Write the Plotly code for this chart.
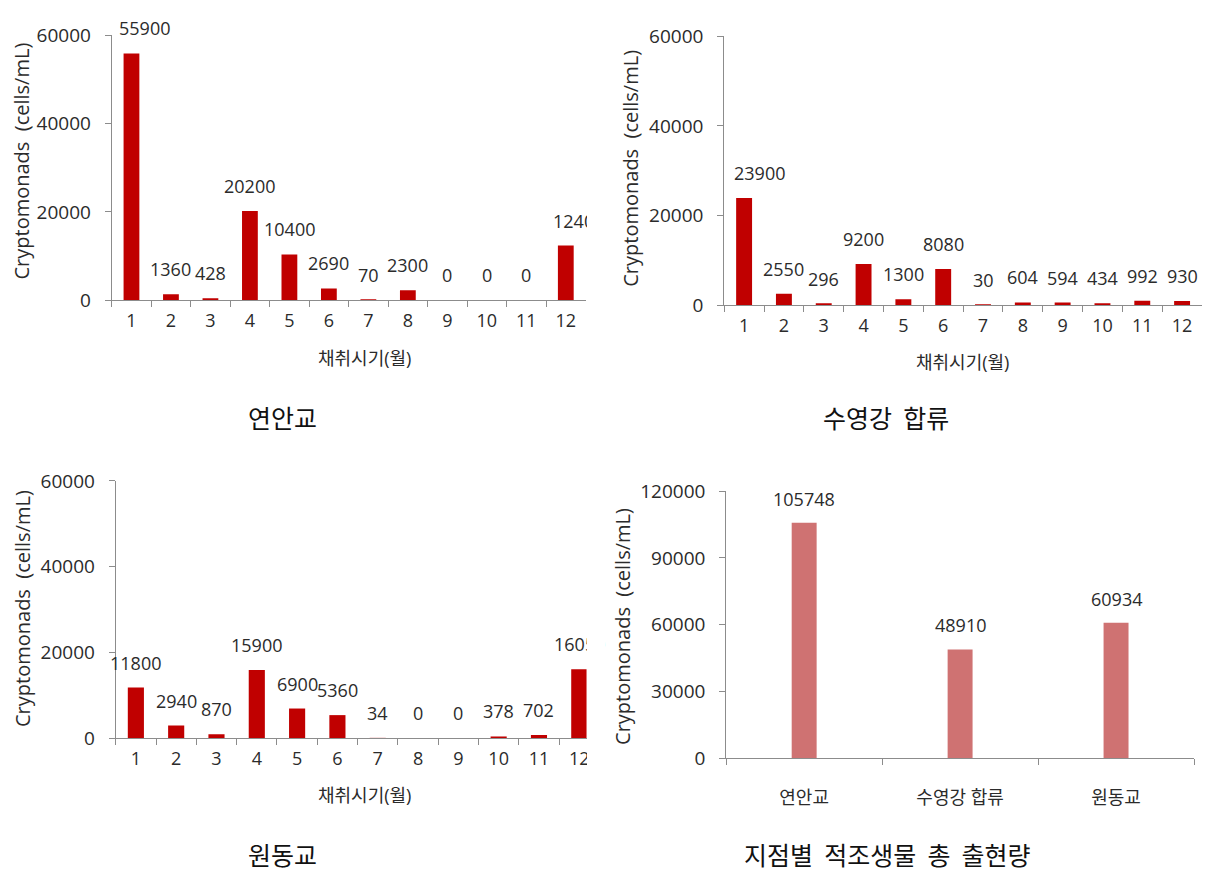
import plotly.graph_objects as go

# ---------------- data ----------------
months = ["1", "2", "3", "4", "5", "6", "7", "8", "9", "10", "11", "12"]
yeonangyo = [55900, 1360, 428, 20200, 10400, 2690, 70, 2300, 0, 0, 0, 12400]
suyeong = [23900, 2550, 296, 9200, 1300, 8080, 30, 604, 594, 434, 992, 930]
wondong = [11800, 2940, 870, 15900, 6900, 5360, 34, 0, 0, 378, 702, 16050]
sites = ["연안교", "수영강 합류", "원동교"]
site_totals = [105748, 48910, 60934]

panel_titles = ["연안교", "수영강\u00a0\u00a0합류", "원동교",
                "지점별\u00a0\u00a0적조생물\u00a0\u00a0총\u00a0\u00a0출현량"]
x_title = "채취시기(월)"
y_title = "Cryptomonads\u00a0\u00a0(cells/mL)"

# label nudges (pixels), style only
nudge1 = {0: 13, 11: 13}
nudge2 = {0: 15}
nudge3 = {}

# ---------------- layout constants ----------------
W, H = 1205, 887
FONT = "Open Sans, Noto Sans CJK KR, sans-serif"
KFONT = "Noto Sans CJK KR, sans-serif"
AX = "#8c8c8c"
TXT = "#2b2b2b"
RED = "#C00000"
PINK = "#CF7272"
LEFT_CROP = 588  # the left-hand charts are cropped at this pixel column


def dx(a, b):
    return [a / W, b / W]


def dy(top, bottom):
    return [1 - bottom / H, 1 - top / H]


fig = go.Figure()

panels = [
    dict(x="x", y="y", vals=yeonangyo, nudge=nudge1),
    dict(x="x2", y="y2", vals=suyeong, nudge=nudge2),
    dict(x="x3", y="y3", vals=wondong, nudge=nudge3),
]

annotations = []
for p in panels:
    fig.add_trace(go.Bar(x=months, y=p["vals"], xaxis=p["x"], yaxis=p["y"],
                         marker=dict(color=RED, line=dict(width=0)),
                         width=0.4, showlegend=False, hoverinfo="skip"))
    for i, v in enumerate(p["vals"]):
        annotations.append(dict(x=i, y=v, xref=p["x"], yref=p["y"], text=str(v),
                                showarrow=False, yshift=25, xshift=p["nudge"].get(i, 0),
                                xanchor="center", yanchor="middle",
                                font=dict(family=FONT, size=18, color=TXT)))

fig.add_trace(go.Bar(x=sites, y=site_totals, xaxis="x4", yaxis="y4",
                     marker=dict(color=PINK, line=dict(width=0)),
                     width=0.16, showlegend=False, hoverinfo="skip"))
for i, v in enumerate(site_totals):
    annotations.append(dict(x=i, y=v, xref="x4", yref="y4", text=str(v),
                            showarrow=False, yshift=24,
                            xanchor="center", yanchor="middle",
                            font=dict(family=FONT, size=18, color=TXT)))


def xaxis(domain, anchor, rng, size=18, standoff=4):
    return dict(domain=domain, anchor=anchor, type="category", range=rng,
                showline=True, linecolor=AX, linewidth=1, ticks="outside",
                tickson="boundaries", ticklen=6, tickcolor=AX, showgrid=False,
                zeroline=False, fixedrange=True, ticklabelstandoff=standoff,
                tickfont=dict(family=FONT, size=size, color=TXT))


def yaxis(domain, anchor, rng, dtick):
    return dict(domain=domain, anchor=anchor, range=rng, dtick=dtick,
                tickformat="d", showline=True, linecolor=AX, linewidth=1,
                ticks="outside", ticklen=6, tickcolor=AX, showgrid=False,
                zeroline=False, fixedrange=True, ticklabelstandoff=10,
                tickfont=dict(family=FONT, size=19, color=TXT))


layout = dict(
    width=W, height=H, margin=dict(l=0, r=0, t=0, b=0),
    paper_bgcolor="white", plot_bgcolor="white",
    xaxis=xaxis(dx(112, 587), "y", [-0.5, 11.5]),
    yaxis=yaxis(dy(23, 296), "x", [0, 60000], 20000),
    xaxis2=xaxis(dx(726, 1205), "y2", [-0.5, 11.5]),
    yaxis2=yaxis(dy(24, 301), "x2", [0, 60000], 20000),
    xaxis3=xaxis(dx(116, 588), "y3", [-0.5, 11.18]),
    yaxis3=yaxis(dy(482, 747), "x3", [0, 60000], 20000),
    xaxis4=xaxis(dx(728, 1197), "y4", [-0.5, 2.5], size=18, standoff=23),
    yaxis4=yaxis(dy(492.5, 768), "x4", [0, 120000], 30000),
)

# axis titles
for (cx, cy) in [(365, 355), (965, 360), (365, 806)]:
    annotations.append(dict(x=cx / W, y=1 - cy / H, xref="paper", yref="paper",
                            text=x_title, showarrow=False,
                            xanchor="center", yanchor="middle",
                            font=dict(family=FONT, size=18, color=TXT)))
for (cx, cy) in [(22, 152), (632, 160), (22, 613), (624, 632)]:
    annotations.append(dict(x=cx / W, y=1 - cy / H, xref="paper", yref="paper",
                            text=y_title, textangle=-90, showarrow=False,
                            xanchor="center", yanchor="middle",
                            font=dict(family=FONT, size=20, color=TXT)))
# panel titles
for t, (cx, cy) in zip(panel_titles, [(283, 416), (888, 416), (283, 866), (890, 866)]):
    annotations.append(dict(x=cx / W, y=1 - cy / H, xref="paper", yref="paper",
                            text=t, showarrow=False,
                            xanchor="center", yanchor="middle",
                            font=dict(family=KFONT, size=25, color="#111111")))

# crop edge of the left-hand charts (the source image cuts them off here)
for (top, bottom) in [(0, 380), (450, 830)]:
    annotations.append(dict(x=LEFT_CROP / W, y=1 - top / H, xref="paper", yref="paper",
                            xanchor="left", yanchor="top", text=" ", showarrow=False,
                            width=18, height=bottom - top, bgcolor="white",
                            borderwidth=0, borderpad=0))

layout["annotations"] = annotations
fig.update_layout(**layout)
fig.write_html("out.html")
